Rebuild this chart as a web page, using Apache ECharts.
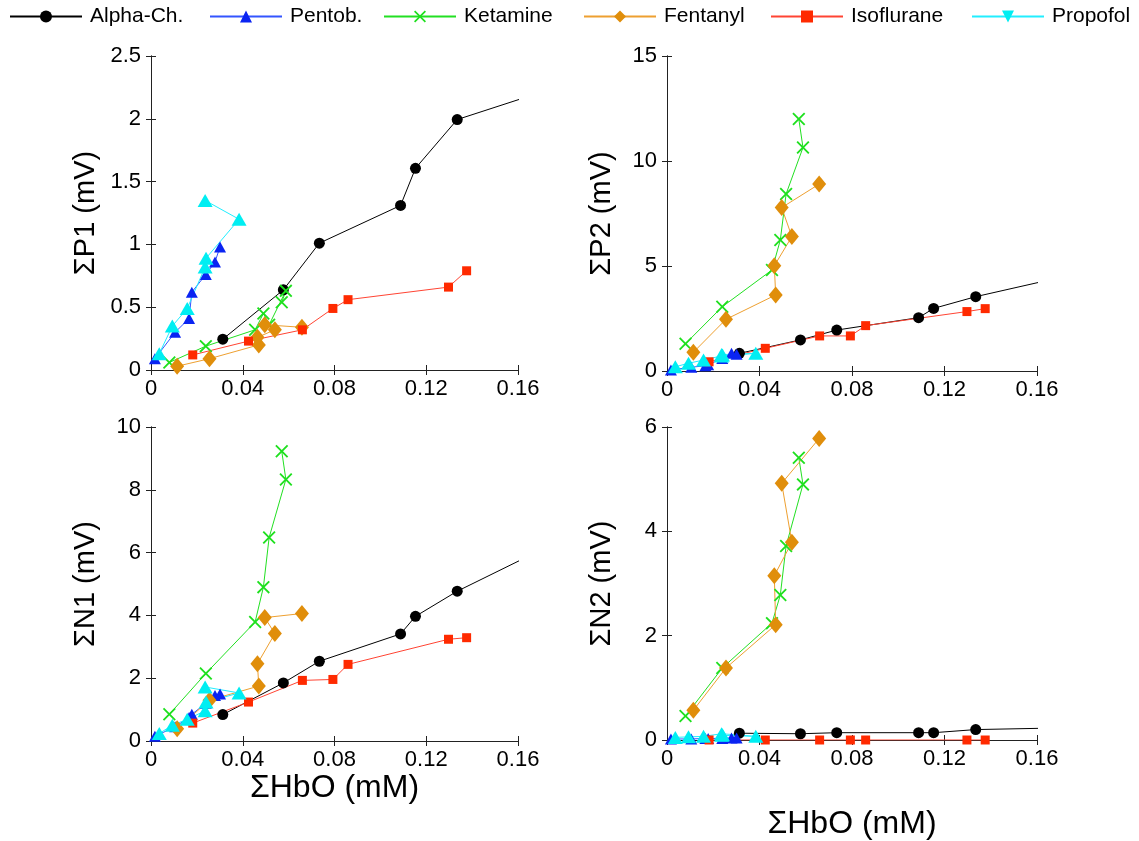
<!DOCTYPE html>
<html>
<head>
<meta charset="utf-8">
<title>HbO vs evoked potentials</title>
<script src="https://cdn.jsdelivr.net/npm/echarts@6/dist/echarts.min.js"></script>
<style>
    html, body { margin: 0; padding: 0; background: #fff; }
    #main { width: 1139px; height: 841px; }
</style>
</head>
<body>
<div id="main"></div>
<script>
// drug names (legend order)
var drugs = ['Alpha-Ch.', 'Pentob.', 'Ketamine', 'Fentanyl', 'Isoflurane', 'Propofol'];

// ΣHbO (mM) per drug, shared by the four panels
var alphaX = [0.0313, 0.0577, 0.0734, 0.1088, 0.1153, 0.1335, 0.18];
var pentX  = [0.0017, 0.0105, 0.0166, 0.0178, 0.0239, 0.0279, 0.0301];
var ketX   = [0.008, 0.0239, 0.0454, 0.049, 0.0515, 0.0588, 0.057];
var fentX  = [0.0114, 0.0255, 0.047, 0.0464, 0.054, 0.0496, 0.0658];
var isoX   = [0.0182, 0.0425, 0.066, 0.0793, 0.0859, 0.1297, 0.1376];
var propX  = [0.0036, 0.0093, 0.0158, 0.0236, 0.024, 0.0384, 0.0236];

// ΣP1 (mV)
var alphaP1 = [0.245, 0.638, 1.01, 1.31, 1.606, 1.994, 2.27];
var pentP1  = [0.09, 0.30, 0.41, 0.62, 0.76, 0.86, 0.98];
var ketP1   = [0.06, 0.19, 0.32, 0.45, 0.36, 0.63, 0.54];
var fentP1  = [0.03, 0.09, 0.20, 0.26, 0.32, 0.36, 0.34];
var isoP1   = [0.12, 0.23, 0.32, 0.49, 0.56, 0.66, 0.79];
var propP1  = [0.13, 0.35, 0.49, 0.82, 0.89, 1.20, 1.35];

// ΣP2 (mV)
var alphaP2 = [0.84, 1.48, 1.95, 2.54, 2.98, 3.54, 4.7];
var pentP2  = [0.05, 0.18, 0.25, 0.30, 0.60, 0.85, 0.80];
var ketP2   = [1.3, 3.06, 4.81, 6.24, 8.43, 10.64, 12.0];
var fentP2  = [0.89, 2.46, 3.62, 5.01, 6.40, 7.78, 8.90];
var isoP2   = [0.44, 1.08, 1.67, 1.67, 2.16, 2.83, 2.97];
var propP2  = [0.20, 0.37, 0.52, 0.72, 0.76, 0.84, 0.78];

// ΣN1 (mV)
var alphaN1 = [0.84, 1.85, 2.54, 3.41, 3.97, 4.77, 6.44];
var pentN1  = [0.15, 0.45, 0.75, 0.85, 1.20, 1.45, 1.50];
var ketN1   = [0.85, 2.15, 3.79, 4.90, 6.48, 8.33, 9.23];
var fentN1  = [0.39, 1.30, 1.75, 2.46, 3.42, 3.93, 4.06];
var isoN1   = [0.57, 1.24, 1.93, 1.96, 2.44, 3.24, 3.29];
var propN1  = [0.24, 0.50, 0.69, 0.96, 1.24, 1.53, 1.72];

// ΣN2 (mV)
var alphaN2 = [0.13, 0.12, 0.14, 0.14, 0.14, 0.20, 0.24];
var pentN2  = [0.02, 0.02, 0.03, 0.03, 0.03, 0.04, 0.04];
var ketN2   = [0.46, 1.38, 2.24, 2.78, 3.72, 4.90, 5.41];
var fentN2  = [0.57, 1.38, 2.21, 3.15, 3.79, 4.92, 5.78];
var isoN2   = [0, 0, 0, 0, 0, 0, 0];
var propN2  = [0.05, 0.06, 0.07, 0.12, 0.10, 0.07, 0.09];

// axis settings
var xTicks = [0, 0.16, 0.04];
var yNames = ['\u03A3P1 (mV)', '\u03A3P2 (mV)', '\u03A3N1 (mV)', '\u03A3N2 (mV)'];
var yMax = [2.5, 15, 10, 6];
var yStep = [0.5, 5, 2, 2];

var FONT = 'Liberation Sans, Arial, sans-serif';

// look of each drug
var styles = {
    'Alpha-Ch.':  { symbol: 'circle', size: 11, mark: '#000000', line: '#000000' },
    'Pentob.':    { symbol: 'triangle', size: [12, 11], mark: '#0a24f2', line: '#3355ff' },
    'Ketamine':   { symbol: 'path://M0,1 L1,0 L5,4 L9,0 L10,1 L6,5 L10,9 L9,10 L5,6 L1,10 L0,9 L4,5 Z', size: 13, mark: '#1ee01e', line: '#22e022' },
    'Fentanyl':   { symbol: 'diamond', size: [14, 17], mark: '#e08e0b', line: '#eea030' },
    'Isoflurane': { symbol: 'rect', size: 9, mark: '#ff2a00', line: '#ff4433' },
    'Propofol':   { symbol: 'triangle', size: [15, 13], mark: '#00eef2', line: '#22eeff' }
};

var panelData = [
    [alphaP1, pentP1, ketP1, fentP1, isoP1, propP1],
    [alphaP2, pentP2, ketP2, fentP2, isoP2, propP2],
    [alphaN1, pentN1, ketN1, fentN1, isoN1, propN1],
    [alphaN2, pentN2, ketN2, fentN2, isoN2, propN2]
];
var xs = [alphaX, pentX, ketX, fentX, isoX, propX];

var grids = [
    { left: 151, top: 56, width: 367, height: 314 },
    { left: 667, top: 56, width: 370, height: 315 },
    { left: 151, top: 427, width: 367, height: 314 },
    { left: 667, top: 427, width: 370, height: 314 }
];

var xAxes = [], yAxes = [], series = [];
for (var p = 0; p < 4; p++) {
    // bottom x axis
    xAxes.push({
        type: 'value', gridIndex: p, min: xTicks[0], max: xTicks[1], interval: xTicks[2],
        axisLine: { lineStyle: { color: '#222', width: 1 } },
        axisTick: { inside: true, length: 5, lineStyle: { color: '#222' } },
        axisLabel: { color: '#000', fontSize: 22, fontFamily: FONT, margin: 8 },
        splitLine: { show: false },
        name: p >= 2 ? '\u03A3HbO (mM)' : '',
        nameLocation: 'middle',
        nameGap: p == 2 ? 30 : 68,
        nameTextStyle: { color: '#000', fontSize: 32, fontFamily: FONT }
    });
    // left y axis
    yAxes.push({
        type: 'value', gridIndex: p, min: 0, max: yMax[p], interval: yStep[p],
        axisLine: { show: true, lineStyle: { color: '#222', width: 1 } },
        axisTick: { show: true, inside: true, length: 5, lineStyle: { color: '#222' } },
        axisLabel: { color: '#000', fontSize: 22, fontFamily: FONT, margin: 10 },
        splitLine: { show: false },
        name: yNames[p],
        nameLocation: 'middle',
        nameGap: 51,
        nameTextStyle: { color: '#000', fontSize: 29, fontFamily: FONT }
    });
}
// mirrored axes on top / right (ticks only)
for (var p = 0; p < 4; p++) {
    xAxes.push({
        type: 'value', gridIndex: p, position: 'top', min: xTicks[0], max: xTicks[1], interval: xTicks[2],
        axisLine: { lineStyle: { color: '#222', width: 1 } },
        axisTick: { inside: true, length: 5, lineStyle: { color: '#222' } },
        axisLabel: { show: false },
        splitLine: { show: false }
    });
    yAxes.push({
        type: 'value', gridIndex: p, position: 'right', min: 0, max: yMax[p], interval: yStep[p],
        axisLine: { show: true, lineStyle: { color: '#222', width: 1 } },
        axisTick: { show: true, inside: true, length: 5, lineStyle: { color: '#222' } },
        axisLabel: { show: false },
        splitLine: { show: false }
    });
}

for (var p = 0; p < 4; p++) {
    for (var d = 0; d < drugs.length; d++) {
        var st = styles[drugs[d]];
        var pts = [];
        for (var i = 0; i < xs[d].length; i++) {
            pts.push([xs[d][i], panelData[p][d][i]]);
        }
        series.push({
            name: drugs[d],
            type: 'line',
            xAxisIndex: p,
            yAxisIndex: p,
            data: pts,
            symbol: st.symbol,
            symbolSize: st.size,
            showAllSymbol: true,
            clip: true,
            itemStyle: { color: st.mark },
            lineStyle: { color: st.line, width: 1 },
            emphasis: { disabled: true },
            animation: false
        });
    }
}

// one legend box per entry so each sits where it does in the figure
var legendLeft = [9, 209, 383, 583, 770, 971];
var legends = [];
for (var d = 0; d < drugs.length; d++) {
    legends.push({
        data: [drugs[d]],
        left: legendLeft[d],
        top: 6,
        padding: 0,
        itemWidth: 72,
        itemHeight: 15,
        symbolRotate: drugs[d] == 'Propofol' ? 180 : 'inherit',
        textStyle: { color: '#000', fontSize: 21, fontFamily: FONT, padding: [0, 0, 0, 3] }
    });
}

var myChart = echarts.init(document.getElementById('main'));
myChart.setOption({
    backgroundColor: '#fff',
    animation: false,
    legend: legends,
    grid: grids,
    xAxis: xAxes,
    yAxis: yAxes,
    series: series
});
</script>
</body>
</html>
